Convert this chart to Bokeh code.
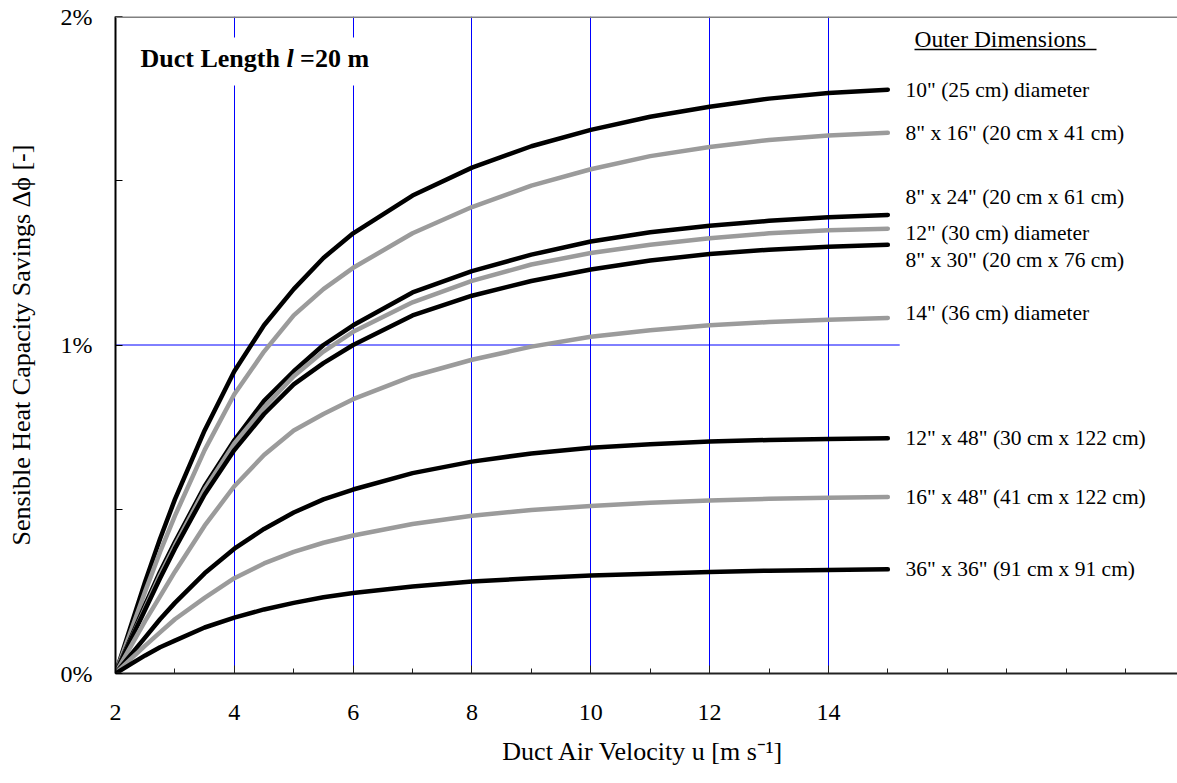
from bokeh.plotting import figure
from bokeh.models import FixedTicker, Span, Label, BoxAnnotation, ColumnDataSource
from bokeh.embed import file_html
from bokeh.resources import INLINE
from bokeh.core.properties import value

# ---------------- data ----------------
velocity = [2, 2.25, 2.5, 2.75, 3, 3.5, 4, 4.5, 5, 5.5, 6, 7, 8, 9, 10, 11, 12, 13, 14, 15]

duct_labels = [
    '10" (25 cm) diameter',
    '8" x 16" (20 cm x 41 cm)',
    '8" x 24" (20 cm x 61 cm)',
    '12" (30 cm) diameter',
    '8" x 30" (20 cm x 76 cm)',
    '14" (36 cm) diameter',
    '12" x 48" (30 cm x 122 cm)',
    '16" x 48" (41 cm x 122 cm)',
    '36" x 36" (91 cm x 91 cm)',
]
duct_shades = ["black", "gray", "black", "gray", "black", "gray", "black", "gray", "black"]

savings_10in_diam = [0, 0.14, 0.28, 0.41, 0.53, 0.74, 0.92, 1.06, 1.17, 1.265, 1.34, 1.455, 1.54, 1.605, 1.655, 1.695, 1.725, 1.75, 1.767, 1.777]
savings_8x16 = [0, 0.125, 0.25, 0.37, 0.48, 0.68, 0.85, 0.98, 1.09, 1.17, 1.235, 1.34, 1.42, 1.485, 1.535, 1.575, 1.603, 1.624, 1.638, 1.646]
savings_8x24 = [0, 0.105, 0.21, 0.31, 0.40, 0.57, 0.71, 0.83, 0.92, 1.00, 1.06, 1.16, 1.225, 1.275, 1.315, 1.343, 1.363, 1.378, 1.389, 1.396]
savings_12in_diam = [0, 0.10, 0.20, 0.30, 0.39, 0.56, 0.70, 0.81, 0.905, 0.98, 1.04, 1.13, 1.195, 1.245, 1.28, 1.305, 1.325, 1.34, 1.349, 1.354]
savings_8x30 = [0, 0.10, 0.195, 0.29, 0.38, 0.545, 0.68, 0.79, 0.88, 0.945, 1.00, 1.09, 1.15, 1.195, 1.23, 1.257, 1.277, 1.29, 1.299, 1.305]
savings_14in_diam = [0, 0.08, 0.16, 0.235, 0.31, 0.45, 0.57, 0.665, 0.74, 0.79, 0.835, 0.905, 0.955, 0.995, 1.025, 1.045, 1.06, 1.07, 1.077, 1.082]
savings_12x48 = [0, 0.055, 0.11, 0.165, 0.215, 0.305, 0.38, 0.44, 0.49, 0.53, 0.56, 0.61, 0.645, 0.67, 0.687, 0.698, 0.706, 0.711, 0.714, 0.716]
savings_16x48 = [0, 0.043, 0.085, 0.125, 0.165, 0.23, 0.29, 0.335, 0.37, 0.398, 0.42, 0.455, 0.48, 0.498, 0.51, 0.52, 0.527, 0.532, 0.535, 0.537]
savings_36x36 = [0, 0.028, 0.055, 0.08, 0.10, 0.14, 0.17, 0.195, 0.215, 0.232, 0.245, 0.265, 0.28, 0.29, 0.298, 0.304, 0.309, 0.313, 0.315, 0.317]

all_series = [savings_10in_diam, savings_8x16, savings_8x24, savings_12in_diam, savings_8x30,
              savings_14in_diam, savings_12x48, savings_16x48, savings_36x36]

x_major_ticks = [2, 4, 6, 8, 10, 12, 14]
x_minor_ticks = [3, 5, 7, 9, 11, 13, 15, 16, 17, 18, 19]
x_grid_ticks = [4, 6, 8, 10, 12, 14]
y_major_ticks = [0, 1, 2]
y_minor_ticks = [0.5, 1.5]
y_tick_labels = {0: "0%", 1: "1%", 2: "2%"}
x_title = "Duct Air Velocity u  [m s\u207b\u00b9]"
y_title = "Sensible Heat Capacity Savings \u0394\u03d5 [-]"
note_parts = ["Duct Length", "l", "=20 m"]
header_text = "Outer Dimensions"

# ---------------- layout / style ----------------
W, H = 1177, 783
L, R, T, B = 115, 1177, 16, 673
PX_PER_X = 59.41
X0 = 2
X1 = X0 + (R - L) / PX_PER_X
Y0, Y1 = 0, 2
SERIF = "Liberation Serif"
BLACK = "#000000"
GRAY = "#9b9b9b"
BLUE = "#0000ff"
label_pixel_shift = [0, 0, -18, 4, 15, -5, 0, 0, 0]


def dx(sx):
    return X0 + (sx - L) * (X1 - X0) / (R - L)


def dy(sy):
    return Y0 + (B - sy) * (Y1 - Y0) / (B - T)


p = figure(width=W, height=H, output_backend="svg", toolbar_location=None,
           x_range=(X0, X1), y_range=(Y0, Y1),
           min_border_left=L, min_border_right=W - R, min_border_top=T, min_border_bottom=H - B)
p.outline_line_color = None
p.background_fill_color = "white"
p.border_fill_color = "white"

# grids
p.xgrid.ticker = FixedTicker(ticks=x_grid_ticks)
p.xgrid.grid_line_color = BLUE
p.xgrid.grid_line_width = 1
p.ygrid.visible = False

# axes
xa = p.xaxis[0]
xa.ticker = FixedTicker(ticks=x_major_ticks, minor_ticks=x_minor_ticks)
xa.axis_line_color = "#222222"
xa.axis_line_width = 2
xa.major_tick_in = 8
xa.major_tick_out = 0
xa.minor_tick_in = 5
xa.minor_tick_out = 0
xa.major_tick_line_color = "#222222"
xa.minor_tick_line_color = "#222222"
xa.major_label_text_font = SERIF
xa.major_label_text_font_size = "24px"
xa.major_label_text_color = "black"
xa.major_label_standoff = 31
xa.axis_label = x_title
xa.axis_label_text_font = SERIF
xa.axis_label_text_font_size = "26px"
xa.axis_label_text_font_style = "normal"
xa.axis_label_text_color = "black"
xa.axis_label_standoff = 14

ya = p.yaxis[0]
ya.ticker = FixedTicker(ticks=y_major_ticks, minor_ticks=y_minor_ticks)
ya.major_label_overrides = y_tick_labels
ya.axis_line_color = "black"
ya.axis_line_width = 2
ya.major_tick_in = 7
ya.major_tick_out = 0
ya.minor_tick_in = 7
ya.minor_tick_out = 0
ya.major_tick_line_color = "black"
ya.minor_tick_line_color = "black"
ya.major_label_text_font = SERIF
ya.major_label_text_font_size = "24px"
ya.major_label_text_color = "black"
ya.major_label_standoff = 23
ya.axis_label = y_title
ya.axis_label_text_font = SERIF
ya.axis_label_text_font_size = "26px"
ya.axis_label_text_font_style = "normal"
ya.axis_label_text_color = "black"
ya.axis_label_standoff = 22

# top border
p.add_layout(Span(location=Y1, dimension="width", line_color="#808080", line_width=3))

# 1% horizontal line (only across the curve region)
p.segment(x0=[X0], y0=[1], x1=[15.2], y1=[1], line_color=BLUE, line_width=1)

# curves
for series, shade in zip(all_series, duct_shades):
    p.line(velocity, series, line_color=BLACK if shade == "black" else GRAY,
           line_width=4.5, line_cap="round", line_join="round")

# curve labels
end_vals = [s[-1] for s in all_series]
lab_src = ColumnDataSource(dict(x=[dx(905)] * len(duct_labels), y=end_vals,
                                text=duct_labels, yo=label_pixel_shift))
p.text(x="x", y="y", text="text", y_offset="yo", source=lab_src,
       text_font=value(SERIF), text_font_size=value("21.5px"),
       text_baseline="middle", text_align="left", text_color="black")

# "Outer Dimensions" header, underlined
p.add_layout(Label(x=dx(914), y=dy(38), text=header_text, text_font=SERIF,
                   text_font_size="23.5px", text_baseline="middle", text_align="left",
                   text_color="black"))
p.segment(x0=[dx(914)], y0=[dy(49)], x1=[dx(1096)], y1=[dy(49)], line_color="black", line_width=1.5)

# "Duct Length l =20 m" box
p.add_layout(BoxAnnotation(left=dx(133), right=dx(378), top=dy(37), bottom=dy(85),
                           fill_color="white", fill_alpha=1.0, line_color=None))
for txt, sx, style in zip(note_parts, [140, 285.9, 299.6], ["bold", "bold italic", "bold"]):
    p.add_layout(Label(x=dx(sx), y=dy(58), text=txt, text_font=SERIF, text_font_size="26px",
                       text_font_style=style, text_baseline="middle", text_align="left",
                       text_color="black"))

open("out.html", "w").write(file_html(p, INLINE))
